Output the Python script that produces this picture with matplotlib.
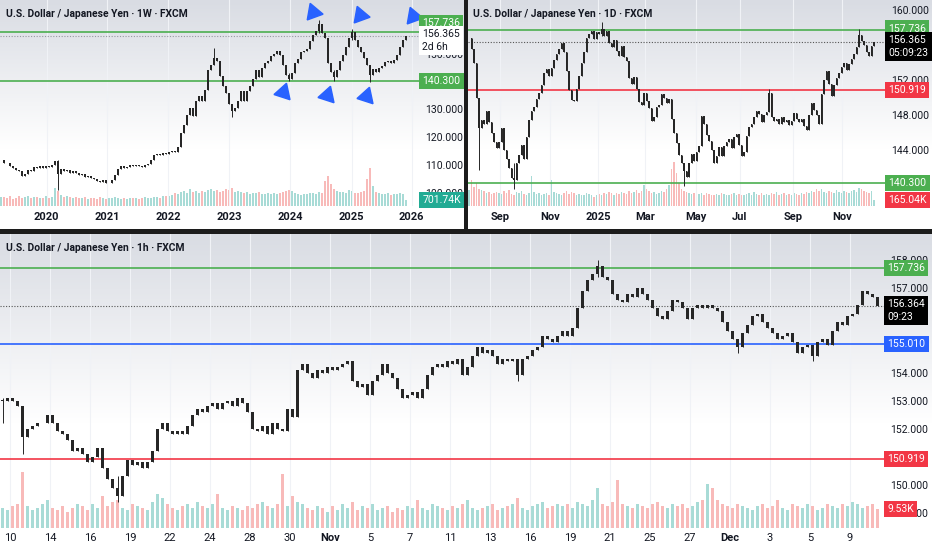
import matplotlib.pyplot as plt
import matplotlib.transforms as mtransforms
import numpy as np
from matplotlib.colors import LinearSegmentedColormap

plt.rcParams['font.family'] = ['Liberation Sans Narrow', 'Roboto', 'DejaVu Sans']

# ---------------- weekly panel (top left), closes
w_close = [112.0, 111.0, 110.8, 109.8, 109.0, 108.5, 108.0, 106.2, 106.8, 108.5,
           108.0, 109.3, 109.0, 109.6, 109.2, 109.8, 109.4, 110.0, 111.6, 107.0,
           108.8, 108.0, 108.5, 107.3, 107.8, 107.2, 106.5, 106.9, 105.9, 106.2,
           105.4, 105.0, 104.5, 104.2, 104.6, 103.5, 103.8, 104.8, 106.5, 108.8,
           109.6, 108.9, 109.5, 110.2, 109.6, 110.0, 109.8, 109.4, 110.0, 110.4,
           111.8, 113.6, 114.2, 113.8, 114.5, 114.0, 114.8, 115.2, 114.7, 116.5,
           121.5, 124.5, 128.0, 130.5, 127.5, 133.0, 135.0, 133.0, 137.0, 144.0,
           146.0, 148.5, 147.5, 142.0, 138.5, 136.0, 132.0, 129.5, 130.5, 133.0,
           136.5, 133.0, 136.5, 138.5, 141.0, 144.0, 141.5, 144.8, 146.5, 147.5,
           149.2, 150.0, 150.8, 149.5, 146.0, 142.5, 141.0, 143.0, 146.5, 148.0,
           150.5, 151.0, 151.8, 154.5, 156.5, 158.0, 160.5, 157.5, 155.5, 146.5,
           143.5, 141.5, 144.0, 147.5, 149.5, 152.5, 155.5, 157.8, 155.0, 152.5,
           150.5, 148.5, 146.0, 142.5, 144.5, 143.5, 144.8, 145.5, 147.0, 147.5,
           146.8, 147.8, 149.5, 152.5, 155.0, 156.365]
w_vol = [1040, 1120, 960, 1220, 900, 1000, 1160, 940, 1080, 1200, 980, 1040, 1120, 960, 1020, 1180, 940, 1060,
         2200, 1800,
         1280, 1120, 1200, 1040, 960, 1120, 1000, 940, 1060, 900, 1000, 960, 880, 1040, 940, 860, 980, 920,
         1080, 960, 900, 1000, 860, 940, 1020, 920, 880, 960, 1040, 940, 1000, 1120, 1060, 980, 1160, 1240,
         1200, 1360, 1520, 1400, 1640, 1800, 1560, 2000, 1720, 1840, 1560, 1760, 1640, 1920, 2040, 1760,
         1880, 1720, 1800, 2100,
         1960, 2200, 1720, 1800, 1640, 1560, 1720, 1480, 1600, 1520, 1640, 1400, 1480, 1600, 1440, 1520,
         1400, 1560, 1640, 1800, 1960,
         1760, 1520, 1440, 1360, 1480, 1400, 1520, 1600, 1440, 1720, 1560,
         3000, 3600, 2700, 2000, 1800, 1640, 1720, 1560, 1880, 1760,
         1600, 1520, 1640, 1800, 3200, 4560, 2400, 1720, 1560, 1440, 1400, 1520, 1360, 1480, 1400, 1520,
         1440, 701.74]
w_wicks = [(19, 101.2, 111.8), (71, 146.0, 151.9), (77, 127.2, 130.5), (96, 140.3, 143.0),
           (106, 157.5, 161.9), (111, 140.3, 144.0), (117, 155.0, 158.9), (123, 139.9, 146.0)]
w_ticks = [15.2, 35.4, 55.8, 76.1, 96.3, 116.9, 136.9]
w_ticklabels = ['2020', '2021', '2022', '2023', '2024', '2025', '2026']

# ---------------- daily panel (top right)
d_close = [156.8, 155.6, 154.0, 150.0, 146.5, 147.5, 147.0, 148.5, 147.2, 146.0,
           145.0, 144.3, 145.0, 146.5, 144.0, 143.0, 142.0, 140.8, 140.6, 142.5,
           143.5, 144.6, 143.0, 145.5, 147.5, 148.5, 149.0, 149.8, 150.5, 151.5,
           152.8, 153.3, 152.5, 153.4, 154.3, 155.0, 155.6, 156.2, 155.2, 153.0,
           150.9, 149.7, 149.6, 151.0, 152.5, 154.0, 155.2, 156.8, 157.3, 157.6,
           156.7, 157.5, 157.3, 157.9, 157.1, 157.6, 156.2, 155.8, 156.6, 155.3,
           154.8, 155.9, 154.6, 154.2, 152.3, 151.6, 152.4, 151.0, 149.5, 149.2,
           150.5, 149.6, 148.8, 147.4, 147.8, 148.9, 149.2, 150.4, 150.0, 149.4,
           149.8, 147.6, 146.0, 144.8, 143.5, 142.5, 141.6, 140.9, 142.6, 143.6,
           142.8, 143.8, 144.5, 147.9, 147.0, 145.7, 145.1, 144.0, 142.6, 143.3,
           144.4, 143.4, 144.5, 144.9, 145.3, 144.3, 145.5, 145.9, 144.6, 143.4,
           143.8, 145.6, 146.7, 147.0, 147.8, 148.5, 148.2, 147.2, 148.0, 148.4,
           150.5, 147.8, 147.3, 147.6, 147.0, 147.8, 147.2, 147.5, 146.9, 147.4,
           148.3, 147.6, 147.2, 147.6, 146.8, 146.3, 148.0, 149.4, 148.6, 148.0,
           147.0, 150.4, 152.0, 153.0, 151.6, 150.2, 151.5, 152.2, 152.8, 153.5,
           154.0, 153.2, 153.9, 154.4, 155.0, 155.8, 157.2, 156.5, 156.0, 155.2,
           154.8, 155.9, 156.365]
d_vol = [430, 720, 530, 620, 480, 430, 410, 360, 380, 340, 360,
         380, 360, 340, 410, 360, 430, 340, 310, 380, 360, 410, 340, 310, 360, 820, 380, 340, 360, 310, 340,
         360, 310, 720, 380, 360, 340, 310, 360, 410, 340, 380, 360, 310, 340, 290, 310, 360, 340, 290, 260,
         290, 340, 310, 360, 340, 380, 360, 310, 360, 340, 380, 360, 340, 410, 360, 380, 430, 360, 410, 580,
         480, 410, 360, 380, 340, 360, 410, 380, 480, 580, 1010, 1200, 910, 620, 480, 410, 380, 360, 340, 360,
         380, 340, 360, 310, 360, 340, 310, 290, 340, 310, 360, 340, 310, 290, 340, 360, 310, 340, 290, 310,
         340, 360, 310, 380, 340, 310, 360, 290, 340, 310, 360, 340, 380, 310, 340, 360, 310, 340, 290, 360,
         340, 310, 360, 340, 380, 360, 410, 380, 460, 410, 480, 380, 360, 410, 380, 360, 430, 380, 360, 410,
         380, 360, 410, 430, 380, 500, 460, 410, 380, 360, 410, 165.04]
d_wicks = [(4, 141.8, 150.0), (18, 139.6, 142.5), (53, 157.1, 158.7), (86, 139.9, 141.6),
           (120, 148.4, 151.0), (156, 155.8, 157.8)]
d_ticks = [12.4, 32.4, 51.6, 70.4, 90.8, 108.4, 129.6, 149.2]
d_ticklabels = ['Sep', 'Nov', '2025', 'Mar', 'May', 'Jul', 'Sep', 'Nov']

# ---------------- hourly panel (bottom), one value per 6 hours
h_close = [153.0, 153.1, 153.0, 152.8, 151.7, 152.0, 152.1, 152.2, 152.2, 152.5, 152.2, 151.9, 151.8, 151.6, 151.2, 151.3,
           151.1, 150.8, 151.0, 151.3, 150.6, 150.2, 149.9, 149.6, 150.3, 150.9, 150.7, 150.8, 150.6, 150.8, 151.2, 152.0,
           152.2, 151.9, 151.8, 151.9, 151.8, 152.1, 152.5, 152.7, 152.6, 152.8, 152.9, 152.7, 152.9, 153.0, 152.8, 153.1,
           152.9, 152.6, 152.0, 151.9, 152.1, 151.8, 152.2, 152.0, 151.9, 152.7, 152.4, 154.1, 154.3, 154.0, 153.8, 154.1,
           154.0, 154.2, 154.1, 154.2, 154.3, 154.4, 153.7, 153.5, 153.6, 153.2, 153.7, 153.9, 154.3, 154.0, 153.8, 153.4,
           153.1, 153.2, 153.3, 153.1, 153.4, 153.9, 154.2, 154.3, 154.2, 154.4, 154.3, 154.5, 153.9, 154.2, 154.6, 154.9,
           154.7, 154.8, 154.6, 154.3, 154.5, 154.4, 154.5, 153.9, 154.5, 154.6, 154.8, 154.9, 155.3, 155.2, 155.1, 155.3,
           155.5, 155.3, 155.6, 156.3, 156.9, 157.3, 157.5, 157.8, 157.4, 157.3, 156.8, 156.6, 156.5, 156.8, 156.7, 157.0,
           156.8, 156.6, 156.3, 156.0, 155.9, 156.2, 156.6, 156.5, 156.3, 155.9, 156.3, 156.4, 156.3, 156.4, 156.3, 156.2,
           155.8, 155.5, 155.2, 154.9, 155.4, 155.7, 156.0, 156.1, 155.8, 155.6, 155.4, 155.2, 155.3, 155.4, 155.1, 154.7,
           154.9, 155.0, 154.6, 155.1, 155.2, 155.0, 155.5, 155.8, 155.7, 156.0, 156.1, 156.4, 156.9, 156.8, 156.7, 156.364]
h_vol = [10, 9, 11, 12, 28, 11, 9, 10, 12, 14, 10, 9, 11, 8, 10, 12,
         11, 9, 12, 10, 16, 11, 13, 14, 10, 9, 12, 11, 10, 9, 13, 17,
         15, 12, 10, 9, 11, 12, 10, 13, 11, 10, 12, 17, 10, 9, 11, 10,
         9, 11, 10, 12, 13, 11, 10, 12, 27, 11, 16, 13, 12, 10, 9, 11,
         10, 8, 11, 9, 12, 10, 13, 9, 11, 10, 12, 9, 10, 11, 8, 10,
         9, 11, 10, 14, 10, 9, 12, 11, 10, 9, 11, 10, 12, 14, 10, 9,
         10, 11, 12, 9, 10, 11, 12, 15, 10, 9, 11, 12, 13, 10, 11, 12,
         11, 12, 10, 13, 12, 11, 14, 20, 12, 11, 13, 24, 12, 11, 10, 12,
         11, 10, 12, 13, 11, 10, 12, 11, 12, 10, 11, 13, 14, 22, 20, 14,
         12, 11, 10, 12, 11, 10, 9, 11, 12, 10, 11, 14, 10, 9, 12, 11,
         10, 12, 11, 9, 10, 12, 11, 10, 12, 11, 13, 12, 10, 11, 12, 9.53]
h_wicks = [(0, 152.2, 153.1), (4, 151.1, 152.8), (23, 149.4, 150.3), (103, 153.7, 154.5),
           (119, 157.4, 158.0), (147, 154.7, 155.2), (162, 154.4, 155.0)]
h_ticklabels = ['10', '14', '16', '19', '22', '24', '28', '30', 'Nov', '5', '7', '11',
                '13', '16', '19', '21', '25', '27', 'Dec', '3', '5', '9']
h_ticks = [1.5 + 8 * k for k in range(len(h_ticklabels))]

# horizontal levels drawn on the charts
resistance = 157.736
support = 140.300
mid_level = 150.919
pivot = 155.010
last_w, last_d, last_h = 156.365, 156.365, 156.364

# arrow annotations on the weekly chart (bar position, price)
peak_arrows = [(104.0, 164.8), (119.7, 163.8), (137.3, 163.5)]
dip_arrows = [(94.0, 136.3), (108.7, 135.2), (121.7, 134.8)]

W, H = 932, 550
INK = '#131722'
CANDLE = '#262626'
GREEN, RED, BLUE, TEAL = '#4caf50', '#f23645', '#2962ff', '#22ab94'

fig = plt.figure(figsize=(W / 100, H / 100), dpi=100, facecolor='#1c1c1c')
grad = LinearSegmentedColormap.from_list('tvbg', ['#ffffff', '#d9dce3'])


def px_rect(x0, y0, x1, y1):
    return [x0 / W, 1 - y1 / H, (x1 - x0) / W, (y1 - y0) / H]


def panel_bg(x0, y0, x1, y1, fade):
    bg = fig.add_axes(px_rect(x0, y0, x1, y1), zorder=0)
    g = np.linspace(0, 1, 256)[:, None]
    g = np.clip((g - fade) / (1 - fade), 0, 1)
    bg.imshow(g, cmap=grad, vmin=0, vmax=1, aspect='auto', origin='lower', extent=[0, 1, 0, 1])
    bg.set_axis_off()


def chart(rect, closes, vols, wicks, xlim, ylim, yticks, vol_top, body_w, ticks, labels, xpad):
    ax = fig.add_axes(rect, zorder=2)
    vax = fig.add_axes(rect, zorder=1, sharex=ax)
    ax.patch.set_visible(False)
    vax.patch.set_visible(False)

    c = np.asarray(closes, dtype=float)
    o = np.r_[c[0], c[:-1]]
    x = np.arange(len(c))
    lo, hi = np.minimum(o, c), np.maximum(o, c)
    wl, wh = lo.copy(), hi.copy()
    for i, l, h in wicks:
        wl[i], wh[i] = min(wl[i], l), max(wh[i], h)
    ax.vlines(x, wl, wh, color=CANDLE, lw=0.7, zorder=4)
    ax.bar(x, np.maximum(hi - lo, 0.02), bottom=lo, width=body_w, color=CANDLE, zorder=4)

    up = c >= o
    vcol = np.where(up, '#26a69a', '#ef5350')
    vax.bar(x, vols, width=0.7, color=vcol, alpha=0.4, linewidth=0)
    vax.set_ylim(0, vol_top)
    vax.axis('off')

    ax.set_xlim(*xlim)
    ax.set_ylim(*ylim)
    ax.yaxis.tick_right()
    ax.set_yticks(yticks)
    ax.set_yticklabels([f'{v:.3f}' for v in yticks])
    ax.set_xticks(ticks)
    ax.set_xticklabels(labels)
    for t in ax.get_xticklabels():
        if not t.get_text().isdigit() or len(t.get_text()) == 4:
            t.set_fontweight('bold')
    ax.tick_params(axis='y', length=0, pad=4.5, labelsize=7.5, labelcolor=INK)
    ax.tick_params(axis='x', length=0, pad=xpad, labelsize=8, labelcolor=INK)
    ax.grid(axis='x', color='#f0f2f6', lw=0.8)
    for s in ax.spines.values():
        s.set_visible(False)
    return ax, vax


def tag(ax, y, text, fc, tc='white', dy=0.0, va='center', yax=None):
    # label box on the price scale; yax lets a volume value place it
    yt = (yax or ax).transData
    tr = mtransforms.blended_transform_factory(ax.transAxes, yt)
    ax.annotate(text, xy=(1, y), xycoords=tr, xytext=(2.5, dy), textcoords='offset points',
                ha='left', va=va, fontsize=7.5, color=tc, linespacing=1.35,
                bbox=dict(boxstyle='square,pad=0.3', fc=fc, ec='none'),
                annotation_clip=False, zorder=10)


def level(ax, y, color, ls='-', lw=1.2):
    ax.axhline(y, color=color, lw=lw, ls=ls, zorder=3)


# panel backgrounds (separators come from the dark figure colour)
panel_bg(0, 0, 464, 229, 0.35)
panel_bg(468, 0, 932, 229, 0.35)
panel_bg(0, 234, 932, 550, 0.40)

# ---- weekly
axw, vw = chart(px_rect(0, 0, 419, 206), w_close, w_vol, w_wicks,
                (-0.33, 139.33), (95.44, 169.19), [100, 110, 120, 130, 150],
                24720, 0.55, w_ticks, w_ticklabels, 4.5)
level(axw, resistance, GREEN)
level(axw, support, GREEN)
level(axw, last_w, '#9598a1', ls=(0, (1, 1.5)), lw=0.8)
for bx, by in peak_arrows:
    axw.plot(bx, by, marker=(3, 0, -100), ms=14, color=BLUE, mec=BLUE, clip_on=False, zorder=6)
for bx, by in dip_arrows:
    axw.plot(bx, by, marker=(3, 0, 102), ms=14, color=BLUE, mec=BLUE, clip_on=False, zorder=6)
tag(axw, resistance, f'{resistance:.3f}', GREEN, dy=6.5)
tag(axw, last_w, f'{last_w:.3f}\n2d 6h', '#ffffff', tc=INK, dy=5.0, va='top')
tag(axw, support, f'{support:.3f}', GREEN)
tag(axw, w_vol[-1], '701.74K', TEAL, yax=vw)
fig.text(6 / W, 1 - 14 / H, 'U.S. Dollar / Japanese Yen · 1W · FXCM', fontsize=7.4,
         color=INK, va='center', ha='left', fontweight='bold')

# ---- daily
axd, vd = chart(px_rect(468, 0, 885, 206), d_close, d_vol, d_wicks,
                (-0.4, 166.4), (137.64, 161.16), [144, 148, 152, 160],
                5665, 0.55, d_ticks, d_ticklabels, 4.5)
level(axd, resistance, GREEN)
level(axd, support, GREEN)
level(axd, mid_level, RED)
level(axd, last_d, '#555555', ls=(0, (1, 1.5)), lw=0.8)
tag(axd, resistance, f'{resistance:.3f}', GREEN, dy=1.0)
tag(axd, last_d, f'{last_d:.3f}\n05:09:23', '#000000', dy=5.0, va='top')
tag(axd, mid_level, f'{mid_level:.3f}', RED)
tag(axd, support, f'{support:.3f}', GREEN)
tag(axd, d_vol[-1], '165.04K', RED, yax=vd)
fig.text(473 / W, 1 - 14 / H, 'U.S. Dollar / Japanese Yen · 1D · FXCM', fontsize=7.4,
         color=INK, va='center', ha='left', fontweight='bold')

# ---- hourly
axh, vh = chart(px_rect(0, 234, 884, 528), h_close, h_vol, h_wicks,
                (-0.5, 176.3), (148.46, 158.94), [149, 150, 152, 153, 154, 157, 158],
                147, 0.45, h_ticks, h_ticklabels, 3.5)
level(axh, resistance, GREEN)
level(axh, pivot, BLUE)
level(axh, mid_level, RED)
level(axh, last_h, '#555555', ls=(0, (1, 1.5)), lw=0.8)
tag(axh, resistance, f'{resistance:.3f}', GREEN)
tag(axh, last_h, f'{last_h:.3f}\n09:23', '#000000', dy=5.0, va='top')
tag(axh, pivot, f'{pivot:.3f}', BLUE)
tag(axh, mid_level, f'{mid_level:.3f}', RED)
tag(axh, h_vol[-1], '9.53K', RED, yax=vh)
fig.text(6 / W, 1 - 248 / H, 'U.S. Dollar / Japanese Yen · 1h · FXCM', fontsize=7.4,
         color=INK, va='center', ha='left', fontweight='bold')

fig.savefig('out.png', dpi=100, facecolor=fig.get_facecolor())
